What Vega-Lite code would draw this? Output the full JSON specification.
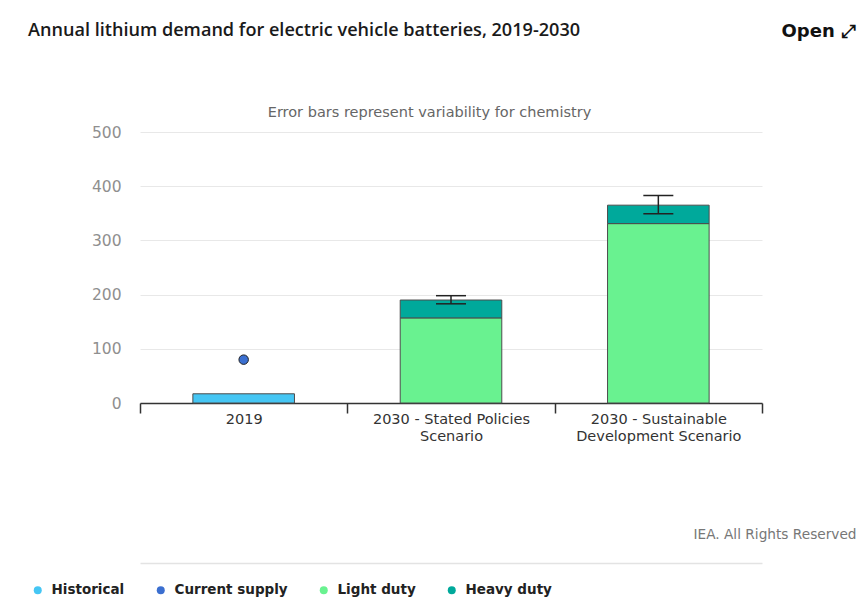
{
  "$schema": "https://vega.github.io/schema/vega-lite/v6.json",
  "autosize": "none",
  "width": 622,
  "height": 271,
  "padding": {"left": 140, "top": 132, "right": 101, "bottom": 199},
  "background": "white",
  "config": {"view": {"stroke": null}, "font": "DejaVu Sans"},
  "title": {
    "text": "Annual lithium demand for electric vehicle batteries, 2019-2030",
    "anchor": "start",
    "frame": "group",
    "dx": -112,
    "dy": 28,
    "font": "Open Sans",
    "fontSize": 18.1,
    "fontWeight": 600,
    "color": "#1a1a1a",
    "offset": 10
  },
  "datasets": {
    "bars": [
      {"category": "2019", "series": "Historical", "value": 17},
      {"category": "2030 - Stated Policies Scenario", "series": "Light duty", "value": 157},
      {"category": "2030 - Stated Policies Scenario", "series": "Heavy duty", "value": 33},
      {"category": "2030 - Sustainable Development Scenario", "series": "Light duty", "value": 331},
      {"category": "2030 - Sustainable Development Scenario", "series": "Heavy duty", "value": 34}
    ],
    "supply": [
      {"category": "2019", "series": "Current supply", "value": 80}
    ],
    "errors": [
      {"category": "2030 - Stated Policies Scenario", "low": 183, "high": 198},
      {"category": "2030 - Sustainable Development Scenario", "low": 349, "high": 383}
    ]
  },
  "resolve": {"axis": {"x": "independent"}},
  "layer": [
    {
      "data": {"name": "bars"},
      "mark": {"type": "bar", "stroke": "#4d4d4d", "strokeWidth": 1, "width": {"band": 0.49}},
      "encoding": {
        "x": {
          "field": "category", "type": "nominal",
          "sort": ["2019", "2030 - Stated Policies Scenario", "2030 - Sustainable Development Scenario"],
          "scale": {"domain": ["2019", "2030 - Stated Policies Scenario", "2030 - Sustainable Development Scenario"], "paddingInner": 0, "paddingOuter": 0},
          "axis": {
            "title": "IEA. All Rights Reserved",
            "titleX": 553, "titleY": 131, "titleAlign": "left", "titleBaseline": "middle", "titleAnchor": null,
            "titleFont": "DejaVu Sans", "titleFontSize": 13.7, "titleFontWeight": "normal", "titleColor": "#777777",
            "labelAngle": 0,
            "labelFont": "DejaVu Sans", "labelFontSize": 14.5, "labelColor": "#333333",
            "labelPadding": -1, "labelLineHeight": 17,
            "labelExpr": "datum.value == '2030 - Stated Policies Scenario' ? ['2030 - Stated Policies', 'Scenario'] : datum.value == '2030 - Sustainable Development Scenario' ? ['2030 - Sustainable', 'Development Scenario'] : datum.value",
            "tickBand": "extent", "tickSize": 10, "tickColor": "#333333", "tickWidth": 1.5,
            "domainColor": "#333333", "domainWidth": 1.5
          }
        },
        "y": {
          "field": "value", "type": "quantitative", "stack": "zero",
          "scale": {"domain": [0, 500], "nice": false},
          "axis": {
            "title": "Error bars represent variability for chemistry",
            "titleAngle": 0, "titleX": 289, "titleY": -20, "titleAlign": "center", "titleBaseline": "middle", "titleAnchor": null,
            "titleFont": "DejaVu Sans", "titleFontSize": 14.5, "titleFontWeight": "normal", "titleColor": "#666666",
            "values": [0, 100, 200, 300, 400, 500],
            "ticks": false, "domain": false,
            "labelPadding": 19, "labelFont": "DejaVu Sans", "labelFontSize": 15.5, "labelColor": "#8f8f8f",
            "gridColor": "#e8e8e8", "gridWidth": 1
          }
        },
        "color": {
          "field": "series", "type": "nominal",
          "scale": {"domain": ["Historical", "Current supply", "Light duty", "Heavy duty"], "range": ["#45c6f4", "#3b6fd0", "#69f290", "#00a99b"]},
          "legend": {
            "orient": "none", "legendX": -109, "legendY": 451, "direction": "horizontal", "columns": 4,
            "title": null, "symbolType": "circle", "symbolSize": 64, "symbolStrokeWidth": 0, "symbolOpacity": 1,
            "labelFont": "DejaVu Sans", "labelFontSize": 13.5, "labelFontWeight": "bold", "labelColor": "#222222",
            "labelOffset": 7, "columnPadding": 29, "padding": 0
          }
        },
        "order": {"field": "series", "sort": "descending"}
      }
    },
    {
      "data": {"name": "supply"},
      "mark": {"type": "point", "filled": true, "size": 90, "stroke": "#222222", "strokeWidth": 1, "opacity": 1},
      "encoding": {
        "x": {"field": "category", "type": "nominal", "axis": null},
        "y": {"field": "value", "type": "quantitative"},
        "color": {"field": "series", "type": "nominal"}
      }
    },
    {
      "data": {"name": "errors"},
      "mark": {"type": "rule", "color": "#222222", "strokeWidth": 1.5},
      "encoding": {
        "x": {
          "field": "category", "type": "nominal",
          "axis": {
            "orient": "top", "labels": false, "ticks": false, "domain": false, "grid": false,
            "title": "Open ⤢",
            "titleX": 641, "titleY": -101, "titleAlign": "left", "titleBaseline": "middle", "titleAnchor": null,
            "titleFont": "DejaVu Sans", "titleFontSize": 18, "titleFontWeight": "bold", "titleColor": "#111111"
          }
        },
        "y": {"field": "low", "type": "quantitative"},
        "y2": {"field": "high"}
      }
    },
    {
      "data": {"name": "errors"},
      "mark": {"type": "tick", "color": "#222222", "size": 30, "thickness": 1.5, "opacity": 1},
      "encoding": {
        "x": {
          "field": "category", "type": "nominal",
          "axis": {
            "orient": "bottom", "offset": 160, "labels": false, "ticks": false, "grid": false, "title": null,
            "domain": true, "domainColor": "#e3e3e3", "domainWidth": 1.5
          }
        },
        "y": {"field": "low", "type": "quantitative"}
      }
    },
    {
      "data": {"name": "errors"},
      "mark": {"type": "tick", "color": "#222222", "size": 30, "thickness": 1.5, "opacity": 1},
      "encoding": {
        "x": {"field": "category", "type": "nominal", "axis": null},
        "y": {"field": "high", "type": "quantitative"}
      }
    }
  ]
}
